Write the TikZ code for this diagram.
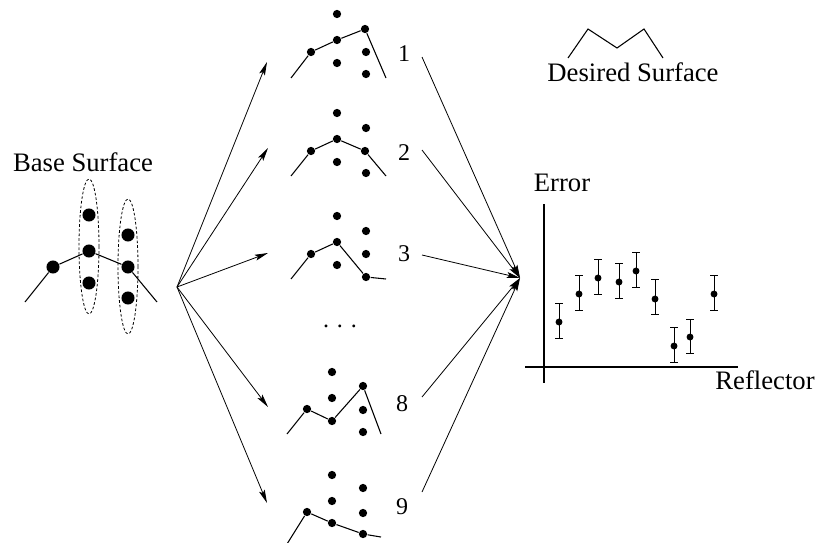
\documentclass[tikz,border=0pt]{standalone}
\usepackage{fontspec}
\setmainfont{Liberation Serif}
\usetikzlibrary{arrows.meta}
\tikzset{
  bigdot/.style={circle, fill, inner sep=0pt, minimum size=9.8pt},
  smalldot/.style={circle, fill, inner sep=0pt, minimum size=6.2pt},
  bardot/.style={circle, fill, inner sep=0pt, minimum size=5.2pt},
  numlabel/.style={font=\fontsize{18}{21}\selectfont},
  bigtext/.style={font=\fontsize{20}{24}\selectfont},
  fanarrow/.style={-{Stealth[length=10pt, width=4.5pt, inset=2pt]}}
}
\begin{document}
\begin{tikzpicture}[x=0.75pt, y=-0.75pt, line width=0.8pt]
    \useasboundingbox (0,0) rectangle (816,542);

    % 基础曲面
    \node[bigtext] (base) at (83,162) {Base Surface};
    \node[bigdot] (b1) at (53,267) {};
    \node[bigdot] (b2) at (89,251) {};
    \node[bigdot] (b3) at (128,267) {};
    \node[bigdot] (b4) at (89,215) {};
    \node[bigdot] (b5) at (89,283) {};
    \node[bigdot] (b6) at (128,235) {};
    \node[bigdot] (b7) at (128,298) {};
    \coordinate (bs) at (25,302);
    \coordinate (be) at (157,302);
    \draw (bs) -- (b1) -- (b2) -- (b3) -- (be);
    \draw[dash pattern=on 2pt off 1.5pt, line width=0.6pt] (89,246.5) ellipse [x radius=10, y radius=67.5];
    \draw[dash pattern=on 2pt off 1.5pt, line width=0.6pt] (128,266.5) ellipse [x radius=10, y radius=67.5];

    % 候选曲面 1
    \node[smalldot] (p1a) at (311,52) {};
    \node[smalldot] (p1b) at (337,40) {};
    \node[smalldot] (p1c) at (365,29) {};
    \node[smalldot] (p1d) at (337,14) {};
    \node[smalldot] (p1e) at (337,63) {};
    \node[smalldot] (p1f) at (366,52) {};
    \node[smalldot] (p1g) at (366,74) {};
    \coordinate (p1s) at (291,78);
    \coordinate (p1t) at (386,78);
    \draw (p1s) -- (p1a) -- (p1b) -- (p1c) -- (p1t);
    \node[numlabel] (n1) at (404,54) {1};

    % 候选曲面 2
    \node[smalldot] (p2a) at (311,151) {};
    \node[smalldot] (p2b) at (337,139) {};
    \node[smalldot] (p2c) at (365,151) {};
    \node[smalldot] (p2d) at (337,113) {};
    \node[smalldot] (p2e) at (337,162) {};
    \node[smalldot] (p2f) at (366,128) {};
    \node[smalldot] (p2g) at (366,173) {};
    \coordinate (p2s) at (291,176);
    \coordinate (p2t) at (386,176);
    \draw (p2s) -- (p2a) -- (p2b) -- (p2c) -- (p2t);
    \node[numlabel] (n2) at (404,153) {2};

    % 候选曲面 3
    \node[smalldot] (p3a) at (311,254) {};
    \node[smalldot] (p3b) at (337,242) {};
    \node[smalldot] (p3c) at (366,277) {};
    \node[smalldot] (p3d) at (337,216) {};
    \node[smalldot] (p3e) at (337,265) {};
    \node[smalldot] (p3f) at (366,231) {};
    \node[smalldot] (p3g) at (366,254) {};
    \coordinate (p3s) at (291,279);
    \coordinate (p3t) at (386,279);
    \draw (p3s) -- (p3a) -- (p3b) -- (p3c) -- (p3t);
    \node[numlabel] (n3) at (404,254) {3};

    \node[numlabel] (more) at (340,326) {. . .};

    % 候选曲面 8
    \node[smalldot] (p8a) at (307,409) {};
    \node[smalldot] (p8b) at (332,421) {};
    \node[smalldot] (p8c) at (363,386) {};
    \node[smalldot] (p8d) at (332,372) {};
    \node[smalldot] (p8e) at (332,398) {};
    \node[smalldot] (p8f) at (363,410) {};
    \node[smalldot] (p8g) at (363,432) {};
    \coordinate (p8s) at (287,434);
    \coordinate (p8t) at (381,434);
    \draw (p8s) -- (p8a) -- (p8b) -- (p8c) -- (p8t);
    \node[numlabel] (n8) at (402,404) {8};

    % 候选曲面 9
    \node[smalldot] (p9a) at (307,512) {};
    \node[smalldot] (p9b) at (332,523) {};
    \node[smalldot] (p9c) at (363,534) {};
    \node[smalldot] (p9d) at (332,475) {};
    \node[smalldot] (p9e) at (332,501) {};
    \node[smalldot] (p9f) at (363,488) {};
    \node[smalldot] (p9g) at (363,513) {};
    \coordinate (p9s) at (287,544);
    \coordinate (p9t) at (381,537);
    \draw (p9s) -- (p9a) -- (p9b) -- (p9c) -- (p9t);
    \node[numlabel] (n9) at (402,507) {9};

    % 分支箭头
    \coordinate (fan) at (177,287);
    \coordinate (t1) at (267,62);
    \coordinate (t2) at (268,148);
    \coordinate (t3) at (268,253);
    \coordinate (t4) at (268,407);
    \coordinate (t5) at (267,503);
    \foreach \t in {t1,t2,t3,t4,t5}
        \draw[fanarrow, line width=0.6pt] (fan) -- (\t);

    % 汇聚箭头
    \coordinate (err) at (520,278);
    \coordinate (o1) at (422,57);
    \coordinate (o2) at (422,150);
    \coordinate (o3) at (422,255);
    \coordinate (o4) at (422,397);
    \coordinate (o5) at (422,492);
    \foreach \o in {o1,o2,o3,o4,o5}
        \draw[fanarrow, line width=0.6pt] (\o) -- (err);

    % 目标曲面
    \coordinate (d1) at (568,58);
    \coordinate (d2) at (588,29);
    \coordinate (d3) at (617,48);
    \coordinate (d4) at (644,29);
    \coordinate (d5) at (663,58);
    \draw (d1) -- (d2) -- (d3) -- (d4) -- (d5);
    \node[bigtext] (desired) at (633,72) {Desired Surface};

    % 误差图
    \coordinate (yt) at (544,204);
    \coordinate (yb) at (544,383);
    \coordinate (xl) at (525,367);
    \coordinate (xr) at (738,367);
    \draw (yt) -- (yb);
    \draw (xl) -- (xr);
    \node[bigtext] (errlabel) at (562,183) {Error};
    \node[bigtext] (refl) at (765,380) {Reflector};
    \foreach \x/\y/\t/\b [count=\i] in {559/322/303/338, 579/294/275/310, 598/278/259/294,
            619/282/263/298, 636/271/252/287, 655/299/279/314,
            674/346/327/362, 690/337/319/353, 714/294/275/310} {
        \node[bardot] (e\i) at (\x,\y) {};
        \draw[line width=0.6pt] (\x,\t) -- (\x,\b);
        \draw[line width=0.6pt] (\x-4,\t) -- (\x+4,\t);
        \draw[line width=0.6pt] (\x-4,\b) -- (\x+4,\b);
    }
\end{tikzpicture}
\end{document}
